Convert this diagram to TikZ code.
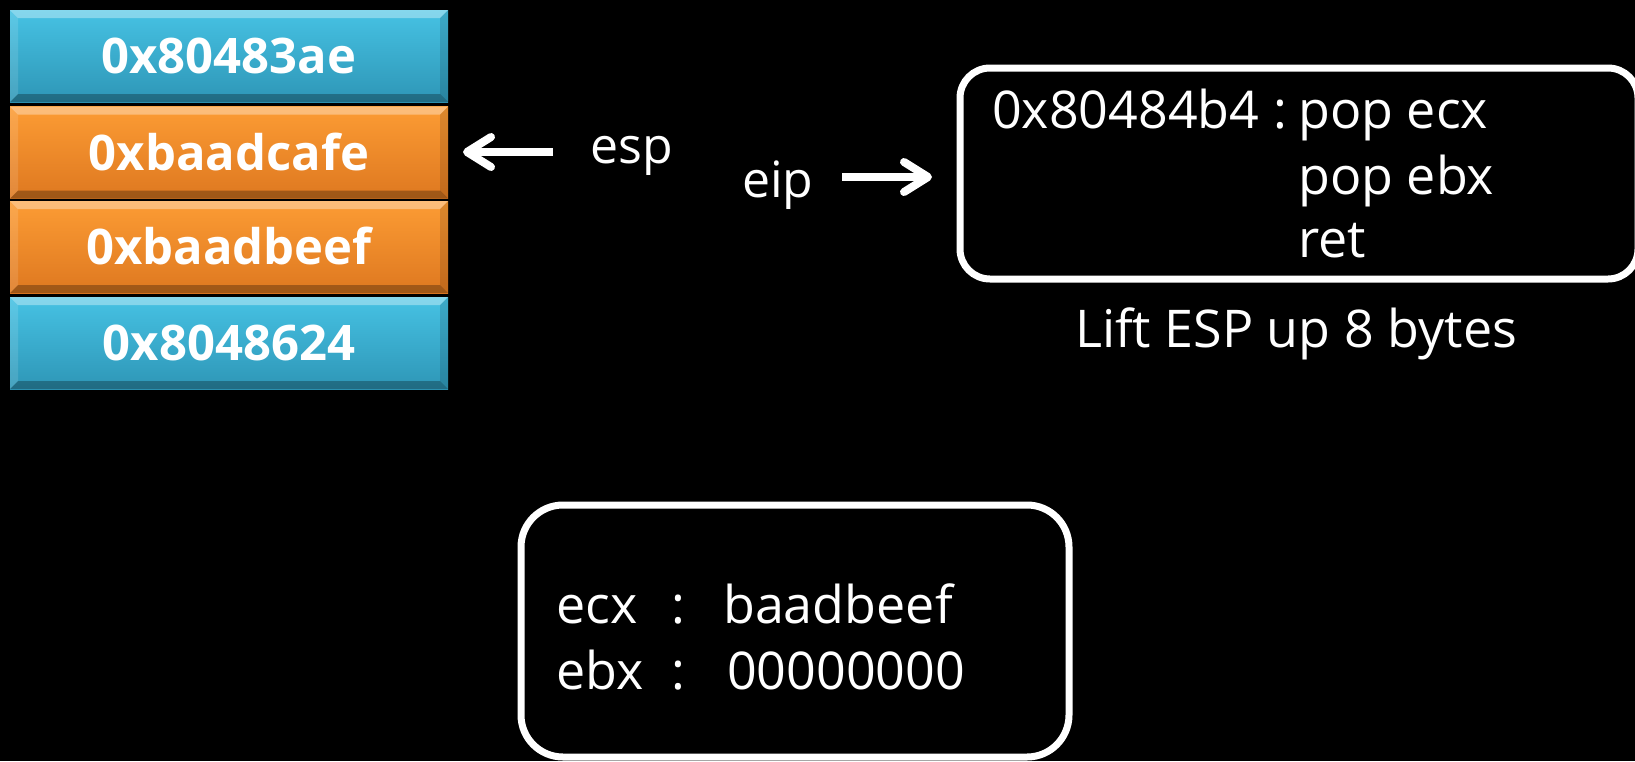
\documentclass[tikz,border=0pt]{standalone}
\usepackage{fontspec}
\setmainfont{Open Sans}
\usetikzlibrary{arrows.meta}

\definecolor{blueTop}{RGB}{70,194,228}
\definecolor{blueBot}{RGB}{46,150,182}
\definecolor{orangeTop}{RGB}{252,156,52}
\definecolor{orangeBot}{RGB}{222,120,32}

% bevelled edges of a stack cell
\newcommand\cellbevel{%
  \fill[white,opacity=0.35]
    (path picture bounding box.north west) -- (path picture bounding box.north east)
    -- ([xshift=-8pt,yshift=-8pt]path picture bounding box.north east)
    -- ([xshift=8pt,yshift=-8pt]path picture bounding box.north west) -- cycle;
  \fill[white,opacity=0.12]
    (path picture bounding box.north west) -- ([xshift=8pt,yshift=-8pt]path picture bounding box.north west)
    -- ([xshift=8pt,yshift=8pt]path picture bounding box.south west)
    -- (path picture bounding box.south west) -- cycle;
  \fill[black,opacity=0.12]
    (path picture bounding box.north east) -- ([xshift=-8pt,yshift=-8pt]path picture bounding box.north east)
    -- ([xshift=-8pt,yshift=8pt]path picture bounding box.south east)
    -- (path picture bounding box.south east) -- cycle;
  \fill[black,opacity=0.28]
    (path picture bounding box.south west) -- (path picture bounding box.south east)
    -- ([xshift=-8pt,yshift=8pt]path picture bounding box.south east)
    -- ([xshift=8pt,yshift=8pt]path picture bounding box.south west) -- cycle;
}

\tikzset{
  cell/.style={rectangle, minimum width=438pt, minimum height=92pt, inner sep=0pt,
    text=white, font=\fontsize{49}{49}\selectfont\bfseries,
    text height=35pt, text depth=0pt, path picture={\cellbevel}},
  bluecell/.style={cell, top color=blueTop, bottom color=blueBot},
  orangecell/.style={cell, top color=orangeTop, bottom color=orangeBot},
  panel/.style={draw=white, line width=7pt, rectangle, inner sep=0pt},
  label/.style={text=white, inner sep=0pt, anchor=base west},
  big/.style={font=\fontsize{50}{50}\selectfont},
  code/.style={font=\fontsize{52}{52}\selectfont},
  pointer/.style={draw=white, line width=8pt,
    -{Straight Barb[length=24pt,width=30pt,round]}},
}

\begin{document}
\begin{tikzpicture}[x=1pt,y=-1pt]
\useasboundingbox (0,0) rectangle (1635,761);
\fill[black] (0,0) rectangle (1635,761);

% the stack
\node[bluecell]   (c1) at (229,56)    {0x80483ae};
\node[orangecell] (c2) at (229,152.5) {0xbaadcafe};
\node[orangecell] (c3) at (229,247)   {0xbaadbeef};
\node[bluecell]   (c4) at (229,343)   {0x8048624};

% stack pointer
\node[label,big] (esp) at (590,163) {esp};
\coordinate (espTail) at (553,152);
\coordinate (espTip) at (463,152);
\draw[pointer] (espTail) -- (espTip);

% instruction pointer
\node[label,big] (eip) at (742,197) {eip};
\coordinate (eipTail) at (842,177);
\coordinate (eipTip) at (932,177);
\draw[pointer] (eipTail) -- (eipTip);

% gadget
\node[panel, minimum width=678pt, minimum height=211pt, rounded corners=30pt]
  (gadget) at (1299,173.5) {};
\node[label,code] (addr) at (992,128) {0x80484b4 :};
\node[label,code] (i1) at (1298,128) {pop ecx};
\node[label,code] (i2) at (1298,194) {pop ebx};
\node[label,code] (i3) at (1298,257) {ret};
\node[text=white, inner sep=0pt, anchor=base, font=\fontsize{52}{52}\selectfont]
  (note) at (1296,347) {Lift ESP up 8 bytes};

% registers
\node[panel, minimum width=548pt, minimum height=252pt, rounded corners=42pt]
  (regs) at (795,631) {};
\node[label,code] (r1) at (556,623) {ecx};
\node[label,code] (k1) at (671,623) {:};
\node[label,code] (v1) at (723,623) {baadbeef};
\node[label,code] (r2) at (556,689) {ebx};
\node[label,code] (k2) at (671,689) {:};
\node[label,code] (v2) at (727,689) {00000000};
\end{tikzpicture}
\end{document}
